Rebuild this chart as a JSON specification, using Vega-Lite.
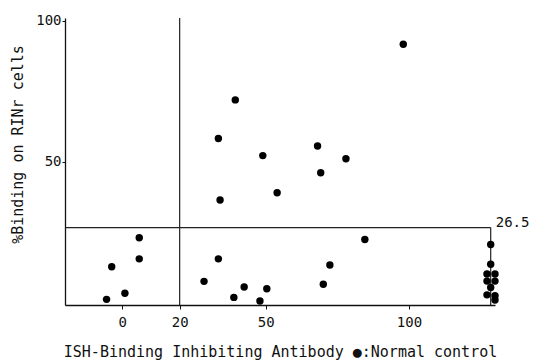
{
  "$schema": "https://vega.github.io/schema/vega-lite/v6.json",
  "width": 430,
  "height": 287,
  "autosize": "none",
  "padding": {"left": 65, "top": 18, "right": 41, "bottom": 56},
  "background": "white",
  "config": {
    "view": {"stroke": null},
    "font": "DejaVu Sans Mono",
    "axis": {"grid": false, "domainColor": "#111", "domainWidth": 1.3, "tickColor": "#111", "labelColor": "#111", "titleColor": "#111", "labelFont": "DejaVu Sans Mono", "titleFont": "DejaVu Sans Mono", "titleFontWeight": "normal"}
  },
  "datasets": {
    "pts": [
      {"x": 34.1, "y": 36.3, "group": "patient"},
      {"x": 5.9, "y": 22.9, "group": "patient"},
      {"x": 5.9, "y": 15.4, "group": "patient"},
      {"x": 33.5, "y": 15.4, "group": "patient"},
      {"x": -3.7, "y": 12.6, "group": "patient"},
      {"x": 28.5, "y": 7.4, "group": "patient"},
      {"x": 0.9, "y": 3.2, "group": "patient"},
      {"x": -5.5, "y": 1.0, "group": "patient"},
      {"x": 42.5, "y": 5.4, "group": "patient"},
      {"x": 38.9, "y": 1.7, "group": "patient"},
      {"x": 48.0, "y": 0.4, "group": "patient"},
      {"x": 50.4, "y": 4.8, "group": "patient"},
      {"x": 98.0, "y": 91.7, "group": "patient"},
      {"x": 39.4, "y": 71.9, "group": "patient"},
      {"x": 33.5, "y": 58.2, "group": "patient"},
      {"x": 49.0, "y": 52.1, "group": "patient"},
      {"x": 68.1, "y": 55.5, "group": "patient"},
      {"x": 78.0, "y": 51.0, "group": "patient"},
      {"x": 69.2, "y": 46.0, "group": "patient"},
      {"x": 54.0, "y": 38.9, "group": "patient"},
      {"x": 84.6, "y": 22.3, "group": "patient"},
      {"x": 72.4, "y": 13.2, "group": "patient"},
      {"x": 70.1, "y": 6.4, "group": "patient"},
      {"x": 128.5, "y": 20.5, "group": "control"},
      {"x": 128.5, "y": 13.5, "group": "control"},
      {"x": 127.2, "y": 10.0, "group": "control"},
      {"x": 130.0, "y": 10.0, "group": "control"},
      {"x": 127.2, "y": 7.5, "group": "control"},
      {"x": 130.0, "y": 7.5, "group": "control"},
      {"x": 128.5, "y": 5.2, "group": "control"},
      {"x": 127.2, "y": 2.6, "group": "control"},
      {"x": 130.0, "y": 2.3, "group": "control"},
      {"x": 130.0, "y": 0.8, "group": "control"}
    ]
  },
  "layer": [
    {
      "data": {"values": [{"x": 20}]},
      "mark": {"type": "rule", "color": "#222", "strokeWidth": 1.2},
      "encoding": {"x": {"field": "x", "type": "quantitative"}}
    },
    {
      "data": {"values": [{"x": -20, "x2": 128.5, "y": 26.5}]},
      "mark": {"type": "rule", "color": "#222", "strokeWidth": 1.2},
      "encoding": {
        "x": {"field": "x", "type": "quantitative"},
        "x2": {"field": "x2"},
        "y": {"field": "y", "type": "quantitative"}
      }
    },
    {
      "data": {"values": [{"x": 128.5, "y": -1, "y2": 26.5}]},
      "mark": {"type": "rule", "color": "#222", "strokeWidth": 1.2},
      "encoding": {
        "x": {"field": "x", "type": "quantitative"},
        "y": {"field": "y", "type": "quantitative"},
        "y2": {"field": "y2"}
      }
    },
    {
      "data": {"values": [{"x": 128.5, "y": 26.5, "label": "26.5"}]},
      "mark": {"type": "text", "align": "left", "baseline": "middle", "dx": 5, "dy": -5, "font": "DejaVu Sans Mono", "fontSize": 14, "color": "#111"},
      "encoding": {
        "x": {"field": "x", "type": "quantitative"},
        "y": {"field": "y", "type": "quantitative"},
        "text": {"field": "label"}
      }
    },
    {
      "data": {"name": "pts"},
      "mark": {"type": "circle", "size": 55, "color": "#000", "opacity": 1},
      "encoding": {
        "x": {
          "field": "x", "type": "quantitative",
          "scale": {"domain": [-20, 130], "nice": false, "zero": false},
          "axis": {"values": [0, 20, 50, 100], "tickSize": 4, "labelPadding": 6, "labelFontSize": 14, "title": "ISH-Binding Inhibiting Antibody ●:Normal control", "titleFontSize": 15, "titleY": 51, "titleBaseline": "alphabetic"}
        },
        "y": {
          "field": "y", "type": "quantitative",
          "scale": {"domain": [-1, 101], "nice": false, "zero": false},
          "axis": {"values": [50, 100], "tickSize": 3, "labelPadding": 1, "labelFontSize": 14, "title": "%Binding on RINr cells", "titleFontSize": 15, "titleX": -48, "titleY": 126, "titleAngle": -90, "titleAlign": "center", "titleBaseline": "middle"}
        }
      }
    }
  ]
}
